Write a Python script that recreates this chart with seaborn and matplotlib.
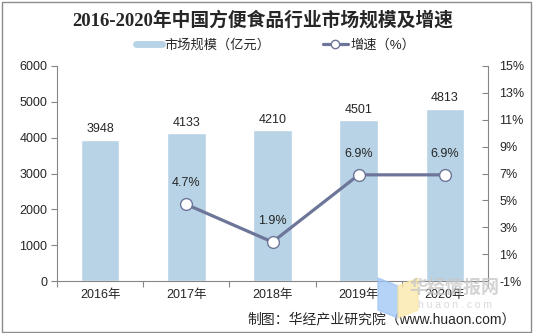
import matplotlib
matplotlib.use("Agg")
import matplotlib.pyplot as plt
from matplotlib.lines import Line2D
from matplotlib.patches import Rectangle, Polygon
from matplotlib.ticker import FixedLocator, FuncFormatter
import seaborn as sns
import pandas as pd

years = ["2016年", "2017年", "2018年", "2019年", "2020年"]
market_size = [3948, 4133, 4210, 4501, 4813]          # 亿元
growth = [None, 4.7, 1.9, 6.9, 6.9]                     # %
left_ticks = [0, 1000, 2000, 3000, 4000, 5000, 6000]
right_ticks = [-1, 1, 3, 5, 7, 9, 11, 13, 15]

title = "2016-2020年中国方便食品行业市场规模及增速"
bar_name = "市场规模（亿元）"
line_name = "增速（%）"
source = "制图：华经产业研究院（www.huaon.com）"

BAR_COLOR = "#B7D3E5"
LINE_COLOR = "#6D7598"
AXIS_COLOR = "#868686"
TEXT_COLOR = "#262626"

sns.set_theme(style="white")
plt.rcParams["font.family"] = ["Liberation Sans", "Noto Sans CJK SC"]
plt.rcParams["axes.unicode_minus"] = False

fig = plt.figure(figsize=(5.33, 3.33), dpi=100)
fig.patch.set_facecolor("white")
ax = fig.add_axes([57 / 533, 1 - 281 / 333, (488 - 57) / 533, 215 / 333])

df = pd.DataFrame({"year": years, "size": market_size, "growth": growth})

sns.barplot(data=df, x="year", y="size", color=BAR_COLOR, width=0.45,
            saturation=1, ax=ax)
ax.bar_label(ax.containers[0], fmt="%d", padding=3, fontsize=9, color=TEXT_COLOR)

ax.set_ylim(0, 6000)
ax.set_xlim(-0.5, len(years) - 0.5)
ax.yaxis.set_major_locator(FixedLocator(left_ticks))
ax.set_xlabel("")
ax.set_ylabel("")
ax.tick_params(axis="y", which="major", direction="out", length=4, width=0.8,
               color=AXIS_COLOR, labelsize=9, labelcolor=TEXT_COLOR, pad=3, left=True)
ax.tick_params(axis="x", which="major", length=0, labelsize=9,
               labelcolor=TEXT_COLOR, pad=6)
ax.set_xticks([i - 0.5 for i in range(len(years) + 1)], minor=True)
ax.tick_params(axis="x", which="minor", direction="out", length=4, width=0.8,
               color=AXIS_COLOR, bottom=True)
for side in ["left", "bottom"]:
    ax.spines[side].set_color(AXIS_COLOR)
    ax.spines[side].set_linewidth(0.8)
ax.spines["top"].set_visible(False)
ax.spines["right"].set_visible(False)

# growth rate on the secondary axis
ax2 = ax.twinx()
gdf = df.dropna(subset=["growth"])
sns.lineplot(data=gdf, x="year", y="growth", ax=ax2, color=LINE_COLOR,
             linewidth=2.3, marker="o", markersize=8.5, markerfacecolor="white",
             markeredgecolor=LINE_COLOR, markeredgewidth=1.0, sort=False)
for yr, g in zip(gdf["year"], gdf["growth"]):
    ax2.annotate(f"{g:.1f}%", xy=(years.index(yr), g), xytext=(0, 11),
                 textcoords="offset points", ha="center", va="bottom",
                 fontsize=9, color=TEXT_COLOR)
ax2.set_ylim(-1, 15)
ax2.yaxis.set_major_locator(FixedLocator(right_ticks))
ax2.yaxis.set_major_formatter(FuncFormatter(lambda v, p: f"{v:.0f}%"))
ax2.set_ylabel("")
ax2.set_xlabel("")
ax2.tick_params(axis="y", direction="in", length=4, width=0.8, color=AXIS_COLOR,
                labelsize=9, labelcolor=TEXT_COLOR, pad=8, right=True)
for side in ["left", "bottom", "top"]:
    ax2.spines[side].set_visible(False)
ax2.spines["right"].set_color(AXIS_COLOR)
ax2.spines["right"].set_linewidth(0.8)
ax.set_xlim(-0.5, len(years) - 0.5)

# title and legend
fig.text(263 / 533, 1 - 20 / 333, title, ha="center", va="center", fontsize=13.5,
         fontweight="bold", color=TEXT_COLOR,
         family=["Liberation Serif", "Noto Sans CJK SC"])
handles = [
    Line2D([], [], color=BAR_COLOR, linewidth=5),
    Line2D([], [], color=LINE_COLOR, linewidth=2.3, marker="o", markersize=6,
           markerfacecolor="white", markeredgecolor=LINE_COLOR),
]
fig.legend(handles, [bar_name, line_name], loc="center",
           bbox_to_anchor=(276 / 533, 1 - 45 / 333), ncol=2, frameon=False,
           fontsize=9.5, handlelength=1.9, columnspacing=4.0, handletextpad=0.2,
           labelcolor=TEXT_COLOR)

# watermark
wm_blue = Polygon([(378 / 533, 1 - 278 / 333), (398 / 533, 1 - 286 / 333),
                   (398 / 533, 1 - 318 / 333), (378 / 533, 1 - 310 / 333)],
                  closed=True, transform=fig.transFigure, color="#9CC3F5",
                  alpha=0.75, zorder=5)
wm_yellow = Polygon([(398 / 533, 1 - 286 / 333), (418 / 533, 1 - 278 / 333),
                     (418 / 533, 1 - 310 / 333), (398 / 533, 1 - 318 / 333)],
                    closed=True, transform=fig.transFigure, color="#FBE7A6",
                    alpha=0.75, zorder=5)
fig.add_artist(wm_blue)
fig.add_artist(wm_yellow)
fig.text(455 / 533, 1 - 288 / 333, "华经情报网", ha="center", va="center",
         fontsize=13, fontweight="bold", color="#C8C8C8", alpha=0.8, zorder=5,
         family=["Noto Sans CJK SC"])
fig.text(455 / 533, 1 - 305 / 333, "h u a o n . c o m", ha="center", va="center",
         fontsize=7.5, color="#D0D0D0", alpha=0.8, zorder=5)

# source note
fig.text(516 / 533, 1 - 319 / 333, source, ha="right", va="center", fontsize=10,
         color=TEXT_COLOR)

# outer frame
fig.add_artist(Rectangle((2 / 533, 1 / 333), 529 / 533, 330 / 333,
                         transform=fig.transFigure, fill=False,
                         edgecolor="#8C8C8C", linewidth=1.0))

fig.savefig("out.png", dpi=100, facecolor="white")
